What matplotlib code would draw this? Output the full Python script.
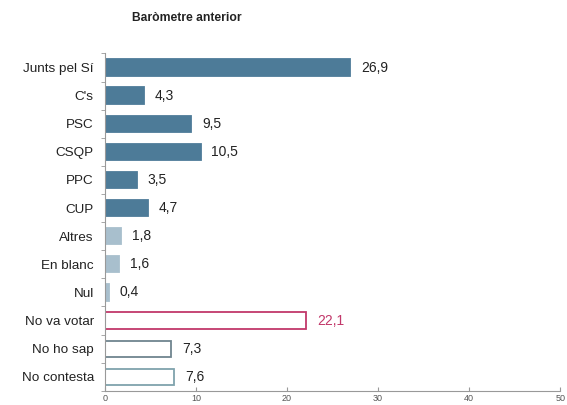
import matplotlib.pyplot as plt
import numpy as np

plt.rcParams['font.family'] = ['Liberation Sans', 'DejaVu Sans']

categories = ['Junts pel Sí', "C's", 'PSC', 'CSQP', 'PPC', 'CUP', 'Altres',
              'En blanc', 'Nul', 'No va votar', 'No ho sap', 'No contesta']
values = [26.9, 4.3, 9.5, 10.5, 3.5, 4.7, 1.8, 1.6, 0.4, 22.1, 7.3, 7.6]

dark = '#4d7b98'
light = '#a8bfcd'
faces = [dark] * 6 + [light] * 3 + ['white'] * 3
edges = [dark] * 6 + [light] * 3 + ['#c2386a', '#6f858f', '#7fa3ad']
label_colors = ['#222222'] * 9 + ['#c2386a', '#222222', '#222222']

fig = plt.figure(figsize=(5.67, 4.05), dpi=100)
ax = fig.add_axes([0.185, 0.035, 0.803, 0.833])

y = np.arange(len(categories))
ax.barh(y, values, height=0.58, color=faces, edgecolor=edges, linewidth=1.3)

for yi, v, c in zip(y, values, label_colors):
    ax.text(v + 1.2, yi, f'{v:.1f}'.replace('.', ','), va='center', ha='left',
            fontsize=10, color=c)

ax.set_ylim(len(categories) - 0.5, -0.5)
ax.set_xlim(0, 50)
ax.set_yticks(y)
ax.set_yticklabels(categories, fontsize=9.7, color='#222222')
ax.tick_params(axis='y', length=0, pad=8)
ax.set_yticks(np.arange(-0.5, len(categories), 1), minor=True)
ax.tick_params(axis='y', which='minor', length=3, color='#999999', direction='out')

ax.set_xticks([0, 10, 20, 30, 40, 50])
ax.tick_params(axis='x', length=3, direction='in', color='#999999',
               labelsize=6.5, labelcolor='#555555', pad=2)

for s in ['top', 'right']:
    ax.spines[s].set_visible(False)
for s in ['left', 'bottom']:
    ax.spines[s].set_color('#999999')
    ax.spines[s].set_linewidth(0.8)

fig.text(0.329, 0.955, 'Baròmetre anterior', fontsize=8.7, fontweight='bold',
         ha='center', va='center', color='#222222')

fig.savefig('out.png', dpi=100)
